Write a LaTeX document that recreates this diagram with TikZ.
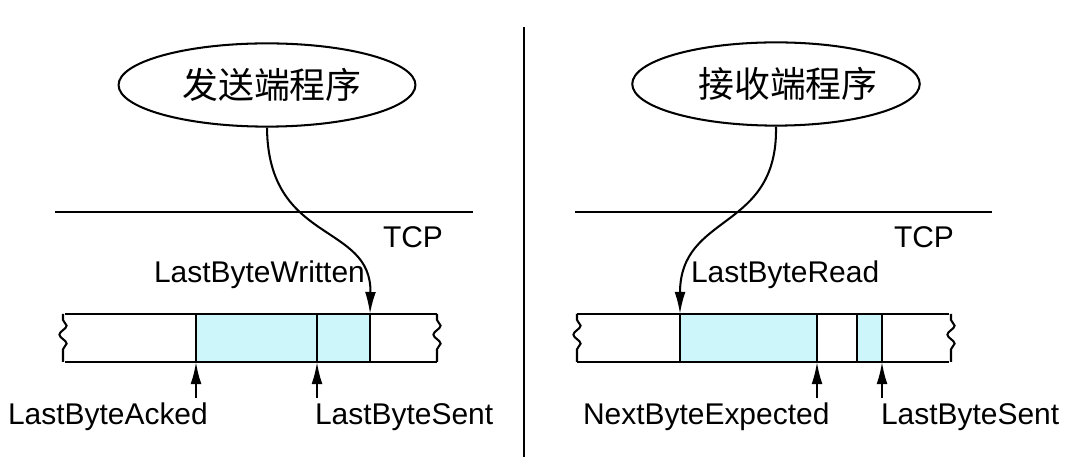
\documentclass[tikz,border=0pt]{standalone}
\usepackage{fontspec}
\setmainfont{Liberation Sans}
\newfontfamily\cjk{Noto Sans CJK SC}
\usepackage{tikz}
\usetikzlibrary{arrows.meta, positioning, shapes.geometric, decorations.pathmorphing}
\definecolor{bufcyan}{RGB}{204, 246, 250}

\begin{document}
\begin{tikzpicture}[
  x=0.025cm, y=-0.025cm,
  >={Latex[length=5.5mm, width=2.7mm]},
  line width=1.45pt,
  app/.style={
    ellipse, draw, line width=1.45pt,
    minimum height=2.08cm, inner sep=0,
    font=\cjk\fontsize{25.5}{30}\selectfont
  },
  lbl/.style={anchor=base west, inner sep=0, font=\fontsize{21.3}{25}\selectfont},
  wavy/.style={
    decorate,
    decoration={snake, amplitude=0.09cm, segment length=0.45cm,
                pre length=0.15cm, post length=0.15cm}
  },
  ptr/.style={->, line width=1.45pt}
]
  \useasboundingbox (0,0) rectangle (1080,457);

  % divider
  \draw[line width=1.2pt] (524,27) -- (524,457);

  % ---- sender ----
  \node[app, minimum width=7.42cm] (sendapp) at (267,85) {\hspace*{0.25cm}发送端程序};
  \draw (55,212) -- (473,212);
  \node[lbl] (sendtcp) at (382,248) {TCP};
  \node[lbl] (written) at (153,283) {LastByteWritten};

  \fill[bufcyan] (196,314) rectangle (370,362);
  \draw (65,314) -- (437,314);
  \draw (65,362) -- (437,362);
  \draw[wavy] (63,314) -- (63,362);
  \draw[wavy] (437,314) -- (437,362);
  \foreach \x in {196, 317, 370}
    \draw (\x,314) -- (\x,362);

  \coordinate (wrtip)    at (370,314);
  \coordinate (ackedtip) at (196,362);
  \coordinate (ackedend) at (196,398);
  \coordinate (senttip)  at (317,362);
  \coordinate (sentend)  at (317,398);

  \draw[ptr] (sendapp.south) .. controls (268,245) and (372,222) .. (wrtip);
  \draw[ptr] (ackedend) -- (ackedtip);
  \draw[ptr] (sentend) -- (senttip);

  \node[lbl] (acked) at (7,425)   {LastByteAcked};
  \node[lbl] (sent)  at (314,425) {LastByteSent};

  % ---- receiver ----
  \node[app, minimum width=7.15cm] (recvapp) at (776,84) {\hspace*{0.6cm}接收端程序};
  \draw (575,212) -- (992,212);
  \node[lbl] (recvtcp) at (893,248) {TCP};
  \node[lbl] (read)    at (690,283) {LastByteRead};

  \fill[bufcyan] (680,314) rectangle (817,362);
  \fill[bufcyan] (857,314) rectangle (882,362);
  \draw (577,314) -- (949,314);
  \draw (577,362) -- (949,362);
  \draw[wavy] (577,314) -- (577,362);
  \draw[wavy] (951,314) -- (951,362);
  \foreach \x in {680, 817, 857, 882}
    \draw (\x,314) -- (\x,362);

  \coordinate (rdtip)     at (680,314);
  \coordinate (expecttip) at (817,362);
  \coordinate (expectend) at (817,398);
  \coordinate (lasttip)   at (882,362);
  \coordinate (lastend)   at (882,398);

  \draw[ptr] (recvapp.south) .. controls (778,232) and (680,212) .. (rdtip);
  \draw[ptr] (expectend) -- (expecttip);
  \draw[ptr] (lastend) -- (lasttip);

  \node[lbl] (expect)   at (582,425) {NextByteExpected};
  \node[lbl] (lastsent) at (880,425) {LastByteSent};
\end{tikzpicture}
\end{document}
